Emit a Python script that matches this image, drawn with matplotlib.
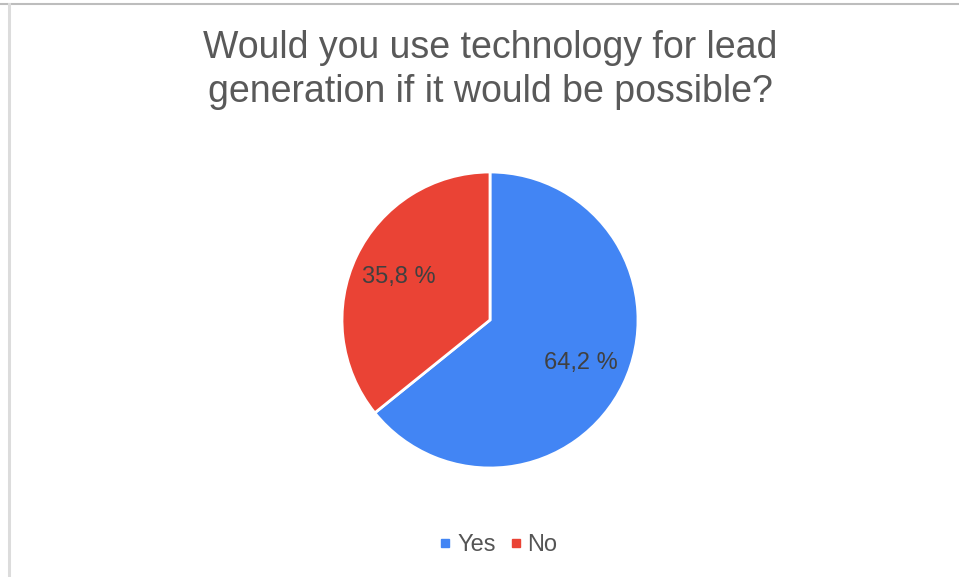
import matplotlib.pyplot as plt
from matplotlib.lines import Line2D

plt.rcParams['font.family'] = ['Liberation Sans', 'DejaVu Sans']

title = "Would you use technology for lead\ngeneration if it would be possible?"
categories = ["Yes", "No"]
shares = [64.2, 35.8]
colors = ["#4285F4", "#EA4335"]

W, H = 959, 577
fig = plt.figure(figsize=(W/100., H/100.), dpi=100)

# pie centre and radius in pixels
cx, cy, r = 490, 320, 148
ax = fig.add_axes([(cx-r)/W, (H-cy-r)/H, 2*r/W, 2*r/H])
ax.set_axis_off()

wedges, texts, autotexts = ax.pie(
    shares, colors=colors, startangle=90, counterclock=False, radius=1,
    autopct=lambda p: f"{p:.1f} %".replace('.', ','), pctdistance=0.68,
    wedgeprops=dict(edgecolor='white', linewidth=2),
    textprops=dict(color='#404040', fontsize=17))
ax.set_xlim(-1, 1)
ax.set_ylim(-1, 1)
ax.set_aspect('equal')

fig.text(cx/W, 1-70/H, title, ha='center', va='center', fontsize=27,
         color='#595959', linespacing=1.3)

handles = [Line2D([], [], marker='s', linestyle='none', markersize=6,
                  markerfacecolor=c, markeredgecolor=c) for c in colors]
fig.legend(handles, categories, loc='center', bbox_to_anchor=(496/W, 32/H),
           ncol=2, frameon=False, fontsize=17, handletextpad=0.05,
           columnspacing=0.4, labelcolor='#555555', handlelength=0.9)

# frame lines along the top and left edges
fig.add_artist(Line2D([0, 1], [1-4/H, 1-4/H], color='#bdbdbd', linewidth=1.5))
fig.add_artist(Line2D([9/W, 9/W], [0, 1-4/H], color='#dcdcdc', linewidth=2.2))

fig.savefig('out.png', dpi=100)
